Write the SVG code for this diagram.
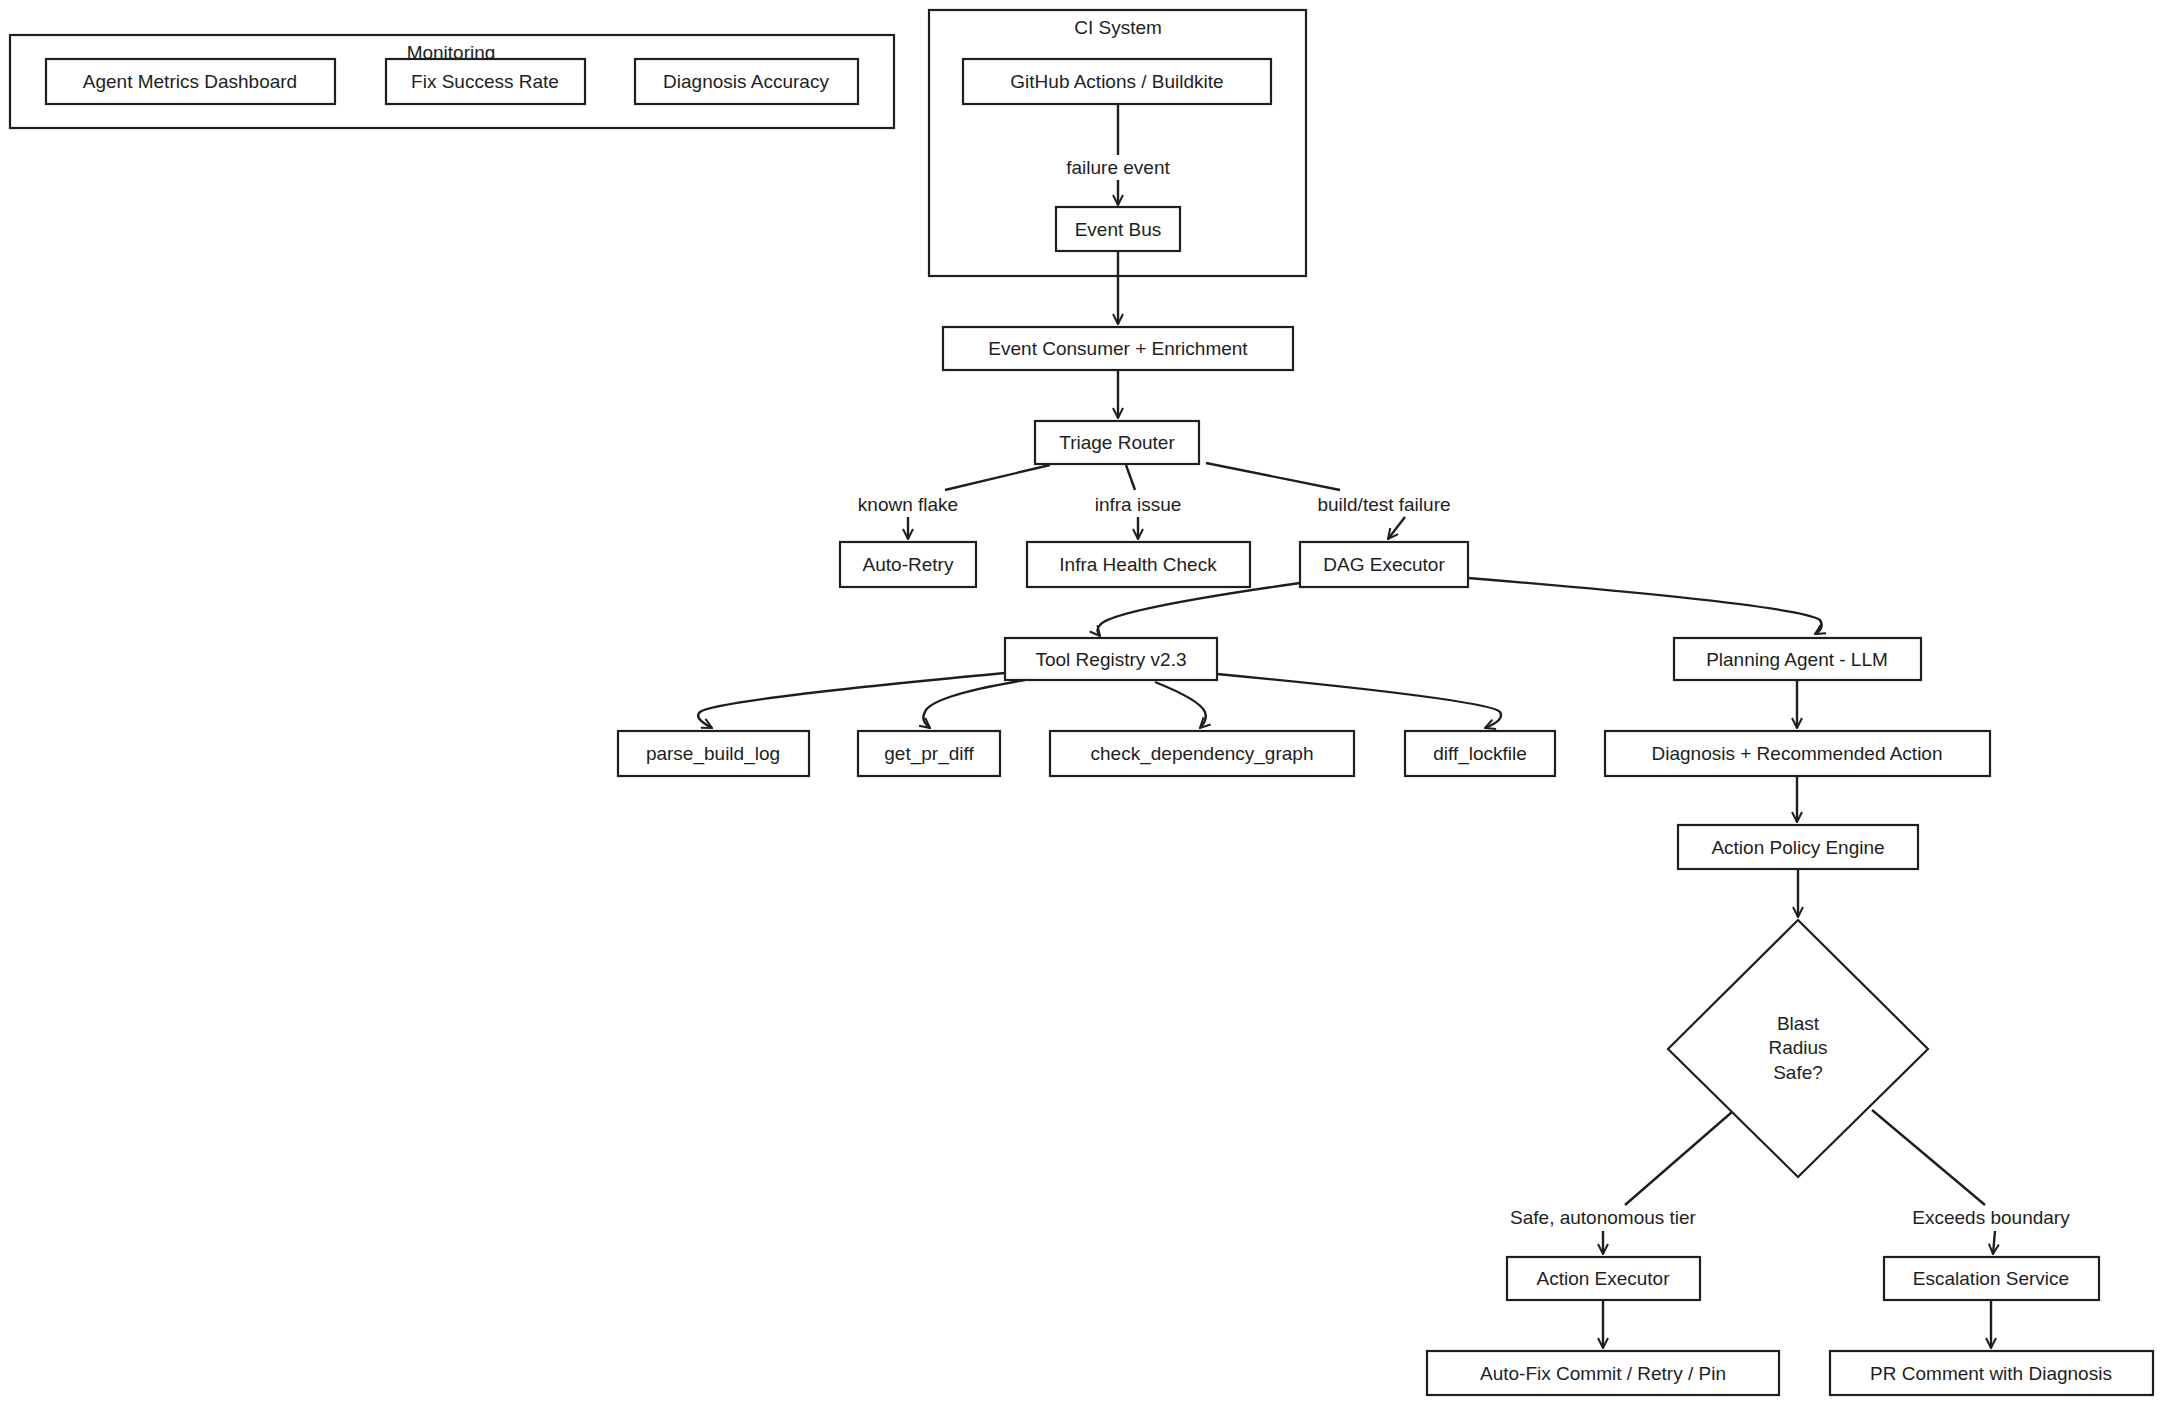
<svg xmlns="http://www.w3.org/2000/svg" width="2164" height="1405" viewBox="0 0 2164 1405">
<defs>
<marker id="ah" viewBox="0 0 12 12" refX="11" refY="6" markerWidth="12" markerHeight="12" markerUnits="userSpaceOnUse" orient="auto"><path d="M1,1 L11,6 L1,11" fill="none" stroke="#1e1e1e" stroke-width="2"/></marker>
</defs>
<style>
rect{fill:#fff;stroke:#1e1e1e;stroke-width:2.2}
.grp{fill:none}
.bg{fill:#fff;stroke:none}
text{font-family:"Liberation Sans",Arial,sans-serif;font-size:19px;fill:#1e1e1e;text-anchor:middle;dominant-baseline:central}
.c path,.c line{fill:none;stroke:#1e1e1e;stroke-width:2.4}
</style>
<rect class="bg" width="2164" height="1405"/>
<g id="monitoring"><rect class="grp" x="10" y="35" width="884" height="93"/><text x="451" y="52">Monitoring</text></g>
<g id="n-dash"><rect x="46" y="59" width="289" height="45"/><text x="190" y="81">Agent Metrics Dashboard</text></g>
<g id="n-fix"><rect x="386" y="59" width="199" height="45"/><text x="485" y="81">Fix Success Rate</text></g>
<g id="n-acc"><rect x="635" y="59" width="223" height="45"/><text x="746" y="81">Diagnosis Accuracy</text></g>
<g id="ci"><rect class="grp" x="929" y="10" width="377" height="266"/><text x="1118" y="27">CI System</text></g>
<g id="n-gh"><rect x="963" y="59" width="308" height="45"/><text x="1117" y="81">GitHub Actions / Buildkite</text></g>
<g id="n-bus"><rect x="1056" y="207" width="124" height="44"/><text x="1118" y="229">Event Bus</text></g>
<g id="n-cons"><rect x="943" y="327" width="350" height="43"/><text x="1118" y="348">Event Consumer + Enrichment</text></g>
<g id="n-triage"><rect x="1035" y="421" width="164" height="43"/><text x="1117" y="442">Triage Router</text></g>
<g id="n-retry"><rect x="840" y="542" width="136" height="45"/><text x="908" y="564">Auto-Retry</text></g>
<g id="n-infra"><rect x="1027" y="542" width="223" height="45"/><text x="1138" y="564">Infra Health Check</text></g>
<g id="n-dag"><rect x="1300" y="542" width="168" height="45"/><text x="1384" y="564">DAG Executor</text></g>
<g id="n-tool"><rect x="1005" y="638" width="212" height="42"/><text x="1111" y="659">Tool Registry v2.3</text></g>
<g id="n-plan"><rect x="1674" y="638" width="247" height="42"/><text x="1797" y="659">Planning Agent - LLM</text></g>
<g id="n-parse"><rect x="618" y="731" width="191" height="45"/><text x="713" y="753">parse_build_log</text></g>
<g id="n-prdiff"><rect x="858" y="731" width="142" height="45"/><text x="929" y="753">get_pr_diff</text></g>
<g id="n-dep"><rect x="1050" y="731" width="304" height="45"/><text x="1202" y="753">check_dependency_graph</text></g>
<g id="n-lock"><rect x="1405" y="731" width="150" height="45"/><text x="1480" y="753">diff_lockfile</text></g>
<g id="n-diag"><rect x="1605" y="731" width="385" height="45"/><text x="1797" y="753">Diagnosis + Recommended Action</text></g>
<g id="n-policy"><rect x="1678" y="825" width="240" height="44"/><text x="1798" y="847">Action Policy Engine</text></g>
<g id="n-blast"><path d="M1798,920 L1928,1049 L1798,1177 L1668,1049 Z" fill="#fff" stroke="#1e1e1e" stroke-width="2.2"/><text x="1798" y="1023">Blast</text><text x="1798" y="1047">Radius</text><text x="1798" y="1072">Safe?</text></g>
<g id="n-exec"><rect x="1507" y="1257" width="193" height="43"/><text x="1603" y="1278">Action Executor</text></g>
<g id="n-esc"><rect x="1884" y="1257" width="215" height="43"/><text x="1991" y="1278">Escalation Service</text></g>
<g id="n-autofix"><rect x="1427" y="1351" width="352" height="44"/><text x="1603" y="1373">Auto-Fix Commit / Retry / Pin</text></g>
<g id="n-pr"><rect x="1830" y="1351" width="323" height="44"/><text x="1991" y="1373">PR Comment with Diagnosis</text></g>
<g class="c" id="connectors">
<line x1="1118" y1="104" x2="1118" y2="155"/><line x1="1118" y1="180" x2="1118" y2="205" marker-end="url(#ah)"/>
<text x="1118" y="167">failure event</text>
<line x1="1118" y1="251" x2="1118" y2="324" marker-end="url(#ah)"/>
<line x1="1118" y1="370" x2="1118" y2="418" marker-end="url(#ah)"/>
<path d="M1050,465 L945,490"/><path d="M908,517 L908,539" marker-end="url(#ah)"/>
<text x="908" y="504">known flake</text>
<path d="M1126,465 L1135,490"/><path d="M1138,517 L1138,539" marker-end="url(#ah)"/>
<text x="1138" y="504">infra issue</text>
<path d="M1206,463 L1340,490"/><path d="M1405,517 Q1395,530 1388,539" marker-end="url(#ah)"/>
<text x="1384" y="504">build/test failure</text>
<path d="M1300,583 Q1110,610 1100,625 Q1095,630 1100,636" marker-end="url(#ah)"/>
<path d="M1468,578 Q1800,605 1820,620 Q1825,628 1815,634" marker-end="url(#ah)"/>
<path d="M1005,673 Q715,700 700,712 Q693,718 712,728" marker-end="url(#ah)"/>
<path d="M1025,680 Q930,696 925,712 Q920,720 930,728" marker-end="url(#ah)"/>
<path d="M1155,682 Q1200,700 1205,712 Q1208,720 1200,728" marker-end="url(#ah)"/>
<path d="M1217,674 Q1490,700 1500,712 Q1505,720 1485,728" marker-end="url(#ah)"/>
<line x1="1797" y1="680" x2="1797" y2="728" marker-end="url(#ah)"/>
<line x1="1797" y1="776" x2="1797" y2="822" marker-end="url(#ah)"/>
<line x1="1798" y1="869" x2="1798" y2="917" marker-end="url(#ah)"/>
<path d="M1732,1112 L1625,1205"/><path d="M1603,1231 L1603,1254" marker-end="url(#ah)"/>
<text x="1603" y="1217">Safe, autonomous tier</text>
<path d="M1872,1110 L1985,1205"/><path d="M1995,1231 L1993,1254" marker-end="url(#ah)"/>
<text x="1991" y="1217">Exceeds boundary</text>
<line x1="1603" y1="1300" x2="1603" y2="1348" marker-end="url(#ah)"/>
<line x1="1991" y1="1300" x2="1991" y2="1348" marker-end="url(#ah)"/>
</g>
</svg>
